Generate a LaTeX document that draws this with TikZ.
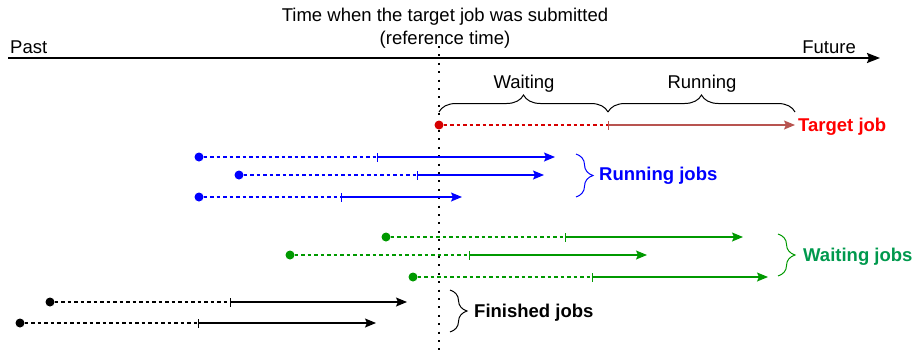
\documentclass[tikz,border=0pt]{standalone}
\usepackage{fontspec}
\setmainfont{Liberation Sans}
\usepackage{tikz}
\usetikzlibrary{arrows.meta}
\usetikzlibrary{decorations.pathreplacing}

\definecolor{runblue}{RGB}{0,0,255}
\definecolor{waitgreen}{RGB}{0,153,0}
\definecolor{waittext}{RGB}{0,153,77}
\definecolor{targetred}{RGB}{214,0,0}
\definecolor{targetrun}{RGB}{184,84,80}

\tikzset{
  txt/.style={font=\fontsize{18.5}{22}\selectfont, inner sep=0pt},
  jobdot/.style={circle, fill, inner sep=0pt, minimum size=9pt},
  waitline/.style={dash pattern=on 3.5pt off 3pt, line width=1.3pt},
  runline/.style={{Bar[width=9pt, line width=0.8pt]}-{Stealth[length=11pt, width=9pt, inset=2pt]}, line width=1.3pt},
  grpbrace/.style={decorate, decoration={brace, amplitude=17pt}, line width=1pt},
  grplabel/.style={txt, anchor=base west, font=\fontsize{18.5}{22}\selectfont\bfseries},
}

\begin{document}
\begin{tikzpicture}[x=1pt, y=-1pt]
\useasboundingbox (0, 0) rectangle (917, 354);

% time axis and reference line
\node (title) at (445, 21) [txt, anchor=base] {Time when the target job was submitted};
\node (reftime) at (445, 44) [txt, anchor=base] {(reference time)};
\node (past) at (10, 53) [txt, anchor=base west] {Past};
\node (future) at (856, 53) [txt, anchor=base east] {Future};
\coordinate (tstart) at (8, 58);
\coordinate (tend) at (880, 58);
\draw[line width=2pt, -{Stealth[length=13pt, width=10pt, inset=2pt]}] (tstart) -- (tend);
\coordinate (reftop) at (439, 46);
\coordinate (refbot) at (439, 354);
\draw[line width=2pt, dash pattern=on 2pt off 6.4pt] (reftop) -- (refbot);

% target job
\node (t0) at (439, 125) [jobdot, targetred] {};
\coordinate (t0s) at (608, 125);
\coordinate (t0e) at (795, 125);
\draw[waitline, targetred] (t0) -- (t0s);
\draw[runline, targetrun] (t0s) -- (t0e);
\node (tlabel) at (798, 131) [grplabel, red] {Target job};

\coordinate (wb1) at (439, 112);
\coordinate (wb2) at (608, 112);
\coordinate (wb3) at (795, 112);
\draw[grpbrace] (wb1) -- (wb2);
\draw[grpbrace] (wb2) -- (wb3);
\node (wlabel) at (524, 88) [txt, anchor=base] {Waiting};
\node (rlabel) at (702, 88) [txt, anchor=base] {Running};

% running jobs
\node (b1) at (199, 157) [jobdot, runblue] {};
\coordinate (b1s) at (377, 157);
\coordinate (b1e) at (555, 157);
\draw[waitline, runblue] (b1) -- (b1s);
\draw[runline, runblue] (b1s) -- (b1e);
\node (b2) at (239, 175) [jobdot, runblue] {};
\coordinate (b2s) at (417, 175);
\coordinate (b2e) at (544, 175);
\draw[waitline, runblue] (b2) -- (b2s);
\draw[runline, runblue] (b2s) -- (b2e);
\node (b3) at (199, 197) [jobdot, runblue] {};
\coordinate (b3s) at (341, 197);
\coordinate (b3e) at (462, 197);
\draw[waitline, runblue] (b3) -- (b3s);
\draw[runline, runblue] (b3s) -- (b3e);
\coordinate (bb1) at (576, 154);
\coordinate (bb2) at (576, 197);
\draw[grpbrace, runblue] (bb1) -- (bb2);
\node (blabel) at (599, 180) [grplabel, runblue] {Running jobs};

% waiting jobs
\node (g1) at (386, 237) [jobdot, waitgreen] {};
\coordinate (g1s) at (565, 237);
\coordinate (g1e) at (743, 237);
\draw[waitline, waitgreen] (g1) -- (g1s);
\draw[runline, waitgreen] (g1s) -- (g1e);
\node (g2) at (290, 255) [jobdot, waitgreen] {};
\coordinate (g2s) at (469, 255);
\coordinate (g2e) at (647, 255);
\draw[waitline, waitgreen] (g2) -- (g2s);
\draw[runline, waitgreen] (g2s) -- (g2e);
\node (g3) at (413, 277) [jobdot, waitgreen] {};
\coordinate (g3s) at (592, 277);
\coordinate (g3e) at (768, 277);
\draw[waitline, waitgreen] (g3) -- (g3s);
\draw[runline, waitgreen] (g3s) -- (g3e);
\coordinate (gb1) at (778, 234);
\coordinate (gb2) at (778, 276);
\draw[grpbrace, waitgreen] (gb1) -- (gb2);
\node (glabel) at (803, 261) [grplabel, waittext] {Waiting jobs};

% finished jobs
\node (k1) at (50, 302) [jobdot, black] {};
\coordinate (k1s) at (230, 302);
\coordinate (k1e) at (407, 302);
\draw[waitline, black] (k1) -- (k1s);
\draw[runline, black] (k1s) -- (k1e);
\node (k2) at (20, 323) [jobdot, black] {};
\coordinate (k2s) at (198, 323);
\coordinate (k2e) at (376, 323);
\draw[waitline, black] (k2) -- (k2s);
\draw[runline, black] (k2s) -- (k2e);
\coordinate (kb1) at (450, 290);
\coordinate (kb2) at (450, 332);
\draw[grpbrace] (kb1) -- (kb2);
\node (klabel) at (474, 317) [grplabel] {Finished jobs};
\end{tikzpicture}
\end{document}
